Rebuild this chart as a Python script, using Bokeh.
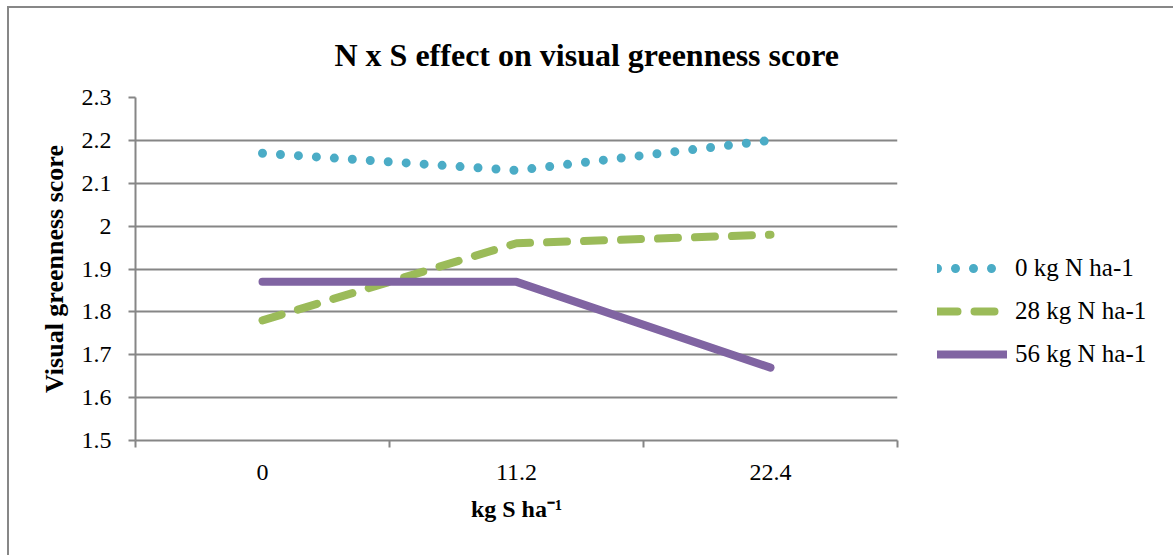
from bokeh.plotting import figure
from bokeh.models import (Range1d, FixedTicker, CustomJSTickFormatter, Legend, LegendItem)
from bokeh.embed import file_html
from bokeh.resources import INLINE

# ---- data ----
s_rates = ["0", "11.2", "22.4"]
n0 = [2.17, 2.13, 2.20]
n28 = [1.78, 1.96, 1.98]
n56 = [1.87, 1.87, 1.67]
series_names = ["0 kg N ha-1", "28 kg N ha-1", "56 kg N ha-1"]
y_ticks = [1.5, 1.6, 1.7, 1.8, 1.9, 2.0, 2.1, 2.2, 2.3]

FONT = "Liberation Serif"
GRID = "#868686"
xs = list(range(len(s_rates)))

p = figure(frame_width=762, frame_height=343, output_backend="svg", toolbar_location=None,
           x_range=Range1d(-0.5, len(s_rates) - 0.5), y_range=Range1d(y_ticks[0], y_ticks[-1]),
           min_border_left=126, min_border_right=0, min_border_top=89, min_border_bottom=115)
p.styles = {"border-top": "2px solid #878787", "border-left": "2px solid #878787",
            "margin-left": "7px", "margin-top": "6px"}
p.outline_line_color = None
p.background_fill_color = "white"
p.border_fill_color = "white"

# title
p.title.text = "N x S effect on visual greenness score"
p.title.text_font = FONT
p.title.text_font_style = "bold"
p.title.text_font_size = "32px"
p.title.text_color = "black"
p.title.align = "left"
p.title.offset = 199
p.title.standoff = 50

# axes
xa = p.xaxis[0]
xa.ticker = FixedTicker(ticks=xs, minor_ticks=[i - 0.5 for i in range(len(s_rates) + 1)])
xa.major_label_overrides = {i: s for i, s in enumerate(s_rates)}
xa.major_tick_out = 0
xa.major_tick_in = 0
xa.minor_tick_out = 7
xa.minor_tick_in = 0
xa.axis_label = "kg S ha⁻¹"

ya = p.yaxis[0]
ya.ticker = FixedTicker(ticks=y_ticks)
ya.formatter = CustomJSTickFormatter(code="return tick.toFixed(1).replace(/\\.0$/, '');")
ya.major_tick_out = 7
ya.major_tick_in = 0
ya.minor_tick_out = 0
ya.axis_label = "Visual greenness score"

for ax in (xa, ya):
    ax.axis_line_color = GRID
    ax.axis_line_width = 2
    ax.major_tick_line_color = GRID
    ax.major_tick_line_width = 2
    ax.minor_tick_line_color = GRID
    ax.minor_tick_line_width = 2
    ax.major_label_text_font = FONT
    ax.major_label_text_font_size = "24px"
    ax.major_label_text_color = "black"
    ax.axis_label_text_font = FONT
    ax.axis_label_text_font_style = "bold"
    ax.axis_label_text_color = "black"
xa.axis_label_text_font_size = "24px"
ya.axis_label_text_font_size = "26px"
xa.major_label_standoff = 17
xa.axis_label_standoff = 13
ya.major_label_standoff = 17
ya.axis_label_standoff = 10

p.xgrid.grid_line_color = None
p.ygrid.grid_line_color = GRID
p.ygrid.grid_line_width = 2
p.ygrid.ticker = FixedTicker(ticks=y_ticks)

# series
r0 = p.line(xs, n0, line_color="#4BACC6", line_width=9, line_cap="round", line_dash="0 18")
r28 = p.line(xs, n28, line_color="#9BBB59", line_width=8, line_cap="round", line_dash="20 17")
r56 = p.line(xs, n56, line_color="#8064A2", line_width=8, line_cap="round", line_join="round")

legend = Legend(items=[LegendItem(label=series_names[0], renderers=[r0]),
                       LegendItem(label=series_names[1], renderers=[r28]),
                       LegendItem(label=series_names[2], renderers=[r56])],
                location=(30, 62), border_line_alpha=0, background_fill_alpha=0,
                label_text_font=FONT, label_text_font_size="25px", label_text_color="black",
                glyph_width=70, glyph_height=28, label_height=28, spacing=15,
                padding=10, label_standoff=8, margin=0)
p.add_layout(legend, "right")

open("out.html", "w").write(file_html(p, INLINE))
